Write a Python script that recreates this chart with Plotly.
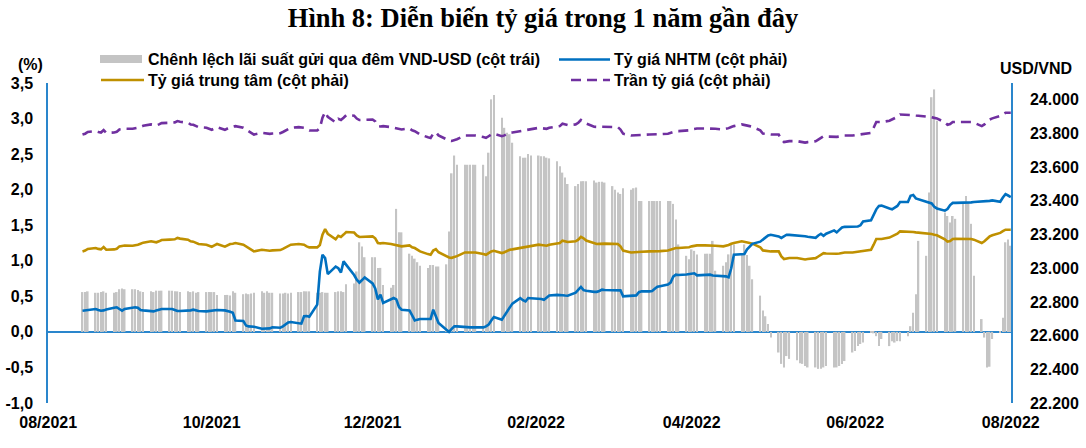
import pandas as pd
import plotly.graph_objects as go

# ---------------- data ----------------
# trading days shown on the chart
dates = pd.bdate_range("2021-08-11", "2022-07-29")

# Chênh lệch lãi suất gửi qua đêm VND-USD (%), left axis
spread = [
    0.56, 0.56, 0.57,
    0.55, 0.55, 0.56, 0.57, 0.55,
    0.55, 0.56, 0.60, 0.61, 0.60,
    0.60, 0.60, 0.59, 0.57, 0.56,
    0.57, 0.56, 0.58, 0.58, 0.58,
    0.58, 0.58, 0.57, 0.57, 0.56,
    0.57, 0.56, 0.57, 0.55, 0.56,
    0.56, 0.56, 0.56, 0.56, 0.52,
    0.52, 0.52, 0.51, 0.57, 0.55,
    0.53, 0.54, 0.53, 0.54, 0.55,
    0.57, 0.55, 0.57, 0.55, 0.55,
    0.54, 0.54, 0.55, 0.54, 0.55,
    0.56, 0.56, 0.57, 0.57, 0.57,
    0.55, 0.55, 0.56, 0.55, 0.55,
    0.56, 0.57, 0.57, 0.56, 0.67,
    0.68, 0.85, 1.26, 1.20, 1.05,
    1.05, 1.05, 0.90, 0.90, 0.66,
    0.62, 0.66, 1.73, 1.40, 1.40,
    1.10, 1.07, 1.03, 0.98, 0.93,
    0.90, 0.94, 0.94, 0.92, 0.92,
    0.95, 1.41, 2.23, 2.48, 2.35,
    2.35, 2.35, 2.35, 2.35, 2.35,
    2.35, 2.19, 2.52, 3.27, 3.33,
    3.01, 2.87, 2.80, 2.78, 2.66,
    2.47, 2.45, 2.45, 2.50, 2.48,
    2.48, 2.47, 2.47, 2.45, 2.44,
    2.40, 2.33, 2.24, 2.17, 2.08,
    2.05, 2.08, 2.12, 2.12, 2.12,
    2.13, 2.10, 2.11, 2.11, 2.10,
    2.05, 2.00, 1.96, 1.94, 2.02,
    2.00, 2.02, 2.03, 1.84, 1.84,
    1.84, 1.84, 1.84, 1.84, 1.84,
    1.84, 1.84, 1.80, 1.58, 1.23,
    1.07, 1.02, 1.16, 1.14, 1.09,
    1.10, 1.10, 1.10, 1.28, 0.86,
    0.93, 0.98, 1.09, 1.23, 1.23,
    1.09, 1.23, 1.08, 0.93, 0.74,
    0.51, 0.30, 0.22, 0.11, -0.08,
    -0.29, -0.45, -0.50, -0.34, -0.38,
    -0.40, -0.44, -0.45, -0.48, -0.50,
    -0.50, -0.52, -0.52, -0.50, -0.48,
    -0.50, -0.50, -0.48, -0.45, -0.41,
    -0.29, -0.27, -0.20, -0.17, -0.15,
    -0.01, -0.02, -0.06, -0.20, -0.10,
    -0.20, -0.13, -0.15, -0.13, -0.13,
    -0.06, 0.08, 0.27, 0.53, 1.28,
    1.07, 1.96, 3.30, 3.41, 2.97,
    1.68, 1.63, 1.54, 1.63, 1.59,
    1.80, 1.91, 1.82, 1.52, 0.79,
    0.18, -0.08, -0.50, -0.49, -0.10,
    -0.01, 0.20, 1.26, 1.30, 1.21,
]

# Tỷ giá NHTM (VND/USD), right axis
nhtm = [
    22748, 22750, 22752,
    22758, 22752, 22748, 22750, 22755,
    22765, 22768, 22758, 22748, 22758,
    22766, 22768, 22766, 22752, 22750,
    22746, 22744, 22750, 22756, 22758,
    22758, 22758, 22752, 22746, 22746,
    22748, 22750, 22754, 22750, 22746,
    22744, 22746, 22748, 22750, 22752,
    22750, 22748, 22742, 22736, 22690,
    22687, 22660, 22655, 22654, 22653,
    22641, 22642, 22643, 22643, 22650,
    22647, 22655, 22665, 22678, 22681,
    22674, 22671, 22715, 22716, 22712,
    22784, 22980, 23080, 23060, 22965,
    23010, 23000, 22975, 23041, 23020,
    22960, 22932, 22915, 22930, 22946,
    22910, 22880, 22815, 22843, 22794,
    22815, 22823, 22815, 22770, 22754,
    22750, 22720, 22690, 22695, 22699,
    22699, 22699, 22754, 22710, 22675,
    22635, 22622, 22640, 22655, 22655,
    22649, 22649, 22649, 22649, 22649,
    22649, 22655, 22665, 22690, 22711,
    22695, 22720, 22744, 22765, 22790,
    22823, 22810, 22803, 22823, 22822,
    22821, 22818, 22813, 22825, 22838,
    22842, 22843, 22840, 22838, 22837,
    22855, 22875, 22889, 22870, 22866,
    22860, 22860, 22865, 22873, 22871,
    22870, 22870, 22869, 22869, 22833,
    22835, 22837, 22839, 22858, 22863,
    22863, 22865, 22878, 22890, 22893,
    22903, 22915, 22950, 22962, 22960,
    22963, 22966, 22970, 22970, 22958,
    22960, 22962, 22962, 22957, 22956,
    22953, 22952, 22946, 23000, 23081,
    23081, 23085, 23112, 23130, 23145,
    23158, 23170, 23183, 23195, 23199,
    23189, 23180, 23190, 23199, 23198,
    23196, 23195, 23192, 23190, 23187,
    23181, 23195, 23205, 23193, 23205,
    23225, 23213, 23228, 23242, 23246,
    23247, 23248, 23248, 23255, 23278,
    23285, 23320, 23350, 23370, 23372,
    23355, 23350, 23360, 23370, 23393,
    23393, 23430, 23435, 23415, 23410,
    23398, 23392, 23385, 23365, 23355,
    23342, 23352, 23375, 23388, 23388,
    23388, 23388, 23390, 23391, 23393,
    23395, 23397, 23398, 23400, 23403,
    23395, 23420, 23440, 23432, 23423,
]

# Tỷ giá trung tâm (VND/USD), right axis
central = [
    23100, 23105, 23115,
    23120, 23115, 23112, 23126, 23110,
    23112, 23116, 23130, 23132, 23135,
    23134, 23135, 23140, 23146, 23152,
    23160, 23156, 23154, 23160, 23168,
    23170, 23170, 23172, 23180, 23176,
    23170, 23160, 23158, 23150, 23144,
    23140, 23134, 23128, 23136, 23144,
    23128, 23136, 23144, 23146, 23150,
    23140, 23130, 23120, 23108, 23100,
    23110, 23108, 23102, 23104, 23106,
    23108, 23115, 23125, 23135, 23140,
    23144, 23144, 23140, 23130, 23124,
    23124, 23138, 23200, 23233, 23205,
    23172, 23193, 23186, 23200, 23215,
    23212, 23195, 23186, 23186, 23186,
    23189, 23178, 23150, 23148, 23150,
    23144, 23140, 23135, 23130, 23130,
    23136, 23125, 23120, 23110, 23100,
    23084, 23080, 23105, 23114, 23095,
    23072, 23064, 23062, 23066, 23072,
    23094, 23094, 23094, 23094, 23094,
    23085, 23080, 23090, 23100, 23104,
    23090, 23095, 23105, 23110, 23112,
    23120, 23122, 23125, 23130, 23132,
    23140, 23138, 23136, 23134, 23140,
    23146, 23150, 23164, 23160, 23156,
    23160, 23170, 23186, 23178, 23165,
    23146, 23144, 23145, 23146, 23146,
    23145, 23144, 23144, 23130, 23105,
    23094, 23094, 23096, 23098, 23098,
    23100, 23100, 23100, 23100, 23102,
    23105, 23110, 23115, 23120, 23120,
    23122, 23125, 23130, 23134, 23136,
    23136, 23136, 23136, 23136, 23134,
    23130, 23132, 23138, 23145, 23150,
    23160, 23158, 23155, 23150, 23146,
    23125, 23106, 23104, 23102, 23100,
    23100, 23070, 23055, 23058, 23061,
    23061, 23058, 23051, 23052, 23055,
    23060, 23070, 23080, 23090, 23088,
    23085, 23086, 23088, 23090, 23094,
    23094, 23096, 23098, 23100, 23102,
    23110, 23140, 23174, 23174, 23174,
    23182, 23189, 23195, 23205, 23219,
    23219, 23218, 23215, 23213, 23212,
    23209, 23206, 23203, 23199, 23196,
    23172, 23158, 23162, 23174, 23175,
    23176, 23176, 23175, 23174, 23170,
    23150, 23160, 23175, 23189, 23196,
    23210, 23220, 23229, 23229, 23229,
]

# Trần tỷ giá (VND/USD), right axis
ceiling = [
    23794, 23799, 23809,
    23814, 23809, 23806, 23820, 23804,
    23806, 23810, 23824, 23826, 23829,
    23828, 23829, 23834, 23840, 23846,
    23854, 23850, 23848, 23854, 23862,
    23864, 23864, 23866, 23874, 23870,
    23864, 23854, 23852, 23844, 23838,
    23834, 23828, 23822, 23830, 23838,
    23822, 23830, 23838, 23840, 23844,
    23834, 23824, 23814, 23802, 23794,
    23804, 23802, 23796, 23798, 23800,
    23802, 23809, 23819, 23829, 23834,
    23838, 23838, 23834, 23824, 23818,
    23818, 23832, 23894, 23927, 23899,
    23866, 23887, 23880, 23894, 23909,
    23906, 23889, 23880, 23880, 23880,
    23883, 23872, 23844, 23842, 23844,
    23838, 23834, 23829, 23824, 23824,
    23830, 23819, 23814, 23804, 23794,
    23778, 23774, 23799, 23808, 23789,
    23766, 23758, 23756, 23760, 23766,
    23788, 23788, 23788, 23788, 23788,
    23779, 23774, 23784, 23794, 23798,
    23784, 23789, 23799, 23804, 23806,
    23814, 23816, 23819, 23824, 23826,
    23834, 23832, 23830, 23828, 23834,
    23840, 23844, 23858, 23854, 23850,
    23854, 23864, 23880, 23872, 23859,
    23840, 23838, 23839, 23840, 23840,
    23839, 23838, 23838, 23824, 23799,
    23788, 23788, 23790, 23792, 23792,
    23794, 23794, 23794, 23794, 23796,
    23799, 23804, 23809, 23814, 23814,
    23816, 23819, 23824, 23828, 23830,
    23830, 23830, 23830, 23830, 23828,
    23824, 23826, 23832, 23839, 23844,
    23854, 23852, 23849, 23844, 23840,
    23819, 23800, 23798, 23796, 23794,
    23794, 23764, 23749, 23752, 23755,
    23755, 23752, 23745, 23746, 23749,
    23754, 23764, 23774, 23784, 23782,
    23779, 23780, 23782, 23784, 23788,
    23788, 23790, 23792, 23794, 23796,
    23804, 23834, 23868, 23868, 23868,
    23876, 23883, 23889, 23899, 23913,
    23913, 23912, 23909, 23907, 23906,
    23903, 23900, 23897, 23893, 23890,
    23866, 23852, 23856, 23868, 23869,
    23870, 23870, 23869, 23868, 23864,
    23844, 23854, 23869, 23883, 23890,
    23904, 23914, 23923, 23923, 23923,
]

# tick labels
x_tick_dates = ["2021-07-29", "2021-09-29", "2021-11-29", "2022-01-30",
                "2022-03-30", "2022-05-31", "2022-07-29"]
x_tick_text = ["08/2021", "10/2021", "12/2021", "02/2022", "04/2022", "06/2022", "08/2022"]
left_ticks = [-1.0, -0.5, 0.0, 0.5, 1.0, 1.5, 2.0, 2.5, 3.0, 3.5]
left_text = ["-1,0", "-0,5", "0,0", "0,5", "1,0", "1,5", "2,0", "2,5", "3,0", "3,5"]
right_ticks = [22200, 22400, 22600, 22800, 23000, 23200, 23400, 23600, 23800, 24000]
right_text = ["22.200", "22.400", "22.600", "22.800", "23.000", "23.200",
              "23.400", "23.600", "23.800", "24.000"]

title_text = "Hình 8: Diễn biến tỷ giá trong 1 năm gần đây"
names = ["Chênh lệch lãi suất gửi qua đêm VND-USD (cột trái)",
         "Tỷ giá NHTM (cột phải)",
         "Tỷ giá trung tâm (cột phải)",
         "Trần tỷ giá (cột phải)"]

# ---------------- styling ----------------
W, H = 1086, 448
L, R, T, B = 48, 1011, 83, 403
AXIS_BLUE = "#2A86CC"
GRAY = "#C4C4C4"
BLUE = "#0070C0"
GOLD = "#BF9000"
PURPLE = "#7030A0"
SANS = "Liberation Sans, Arial, sans-serif"
SERIF = "Liberation Serif, Times New Roman, serif"


def px(x):
    return (x - L) / (R - L)


def py(y):
    return (B - y) / (B - T)


fig = go.Figure()
fig.add_trace(go.Bar(x=dates, y=spread, name=names[0], yaxis="y",
                     width=0.6 * 86400000,
                     marker=dict(color=GRAY, line=dict(width=0))))
fig.add_trace(go.Scatter(x=dates, y=central, name=names[2], yaxis="y2", mode="lines",
                         line=dict(color=GOLD, width=2.6)))
fig.add_trace(go.Scatter(x=dates, y=nhtm, name=names[1], yaxis="y2", mode="lines",
                         line=dict(color=BLUE, width=2.6)))
fig.add_trace(go.Scatter(x=dates, y=ceiling, name=names[3], yaxis="y2", mode="lines",
                         line=dict(color=PURPLE, width=2.6, dash="10px,6px")))

tickfont = dict(family=SANS, size=16, color="black", weight="bold")

fig.update_layout(
    width=W, height=H, autosize=False,
    margin=dict(l=L, r=W - R, t=T, b=H - B, pad=0, autoexpand=False),
    paper_bgcolor="white", plot_bgcolor="white",
    showlegend=False,
    title=dict(text=title_text, x=0.5, xref="container", xanchor="center",
               y=1 - 18 / H, yref="container", yanchor="middle",
               font=dict(family=SERIF, size=26.5, color="black", weight="bold")),
    xaxis=dict(type="date", range=["2021-07-28 22:00", "2022-07-29 02:00"],
               automargin=False,
               tickmode="array", tickvals=x_tick_dates, ticktext=x_tick_text,
               showgrid=False, showline=False, zeroline=False, ticks="",
               tickfont=tickfont, ticklabelstandoff=8),
    yaxis=dict(range=[-1, 3.5], automargin=False,
               tickmode="array", tickvals=left_ticks, ticktext=left_text,
               showgrid=False, showline=True, linecolor=AXIS_BLUE, linewidth=1.5,
               zeroline=True, zerolinecolor=AXIS_BLUE, zerolinewidth=1.5,
               ticks="", tickfont=tickfont, ticklabelstandoff=10),
    yaxis2=dict(range=[22200, 24100], overlaying="y", side="right", automargin=False,
                tickmode="array", tickvals=right_ticks, ticktext=right_text,
                showgrid=False, showline=True, linecolor=AXIS_BLUE, linewidth=1.5,
                zeroline=False, ticks="", tickfont=tickfont, ticklabelstandoff=14),
)

legend_font = dict(family=SANS, size=16, color="black", weight="bold")
shapes = [
    dict(type="rect", xref="paper", yref="paper", x0=px(100), x1=px(142),
         y0=py(63), y1=py(55), fillcolor=GRAY, line=dict(width=0)),
    dict(type="line", xref="paper", yref="paper", x0=px(559), x1=px(610),
         y0=py(59.5), y1=py(59.5), line=dict(color=BLUE, width=2.6)),
    dict(type="line", xref="paper", yref="paper", x0=px(101), x1=px(144),
         y0=py(80), y1=py(80), line=dict(color=GOLD, width=2.6)),
    dict(type="line", xref="paper", yref="paper", x0=px(571), x1=px(610),
         y0=py(80), y1=py(80), line=dict(color=PURPLE, width=2.6, dash="10px,6px")),
]
annotations = [
    dict(text=names[0], x=px(146), y=py(59.5)),
    dict(text=names[1], x=px(612), y=py(59.5)),
    dict(text=names[2], x=px(146), y=py(80)),
    dict(text=names[3], x=px(612), y=py(80)),
]
for a in annotations:
    a.update(xref="paper", yref="paper", xanchor="left", yanchor="middle",
             showarrow=False, font=legend_font)
annotations += [
    dict(text="(%)", x=px(30), y=py(64), xref="paper", yref="paper",
         xanchor="center", yanchor="middle", showarrow=False, font=tickfont),
    dict(text="USD/VND", x=px(1036), y=py(68.5), xref="paper", yref="paper",
         xanchor="center", yanchor="middle", showarrow=False, font=tickfont),
]
fig.update_layout(shapes=shapes, annotations=annotations)

fig.write_html("out.html")
